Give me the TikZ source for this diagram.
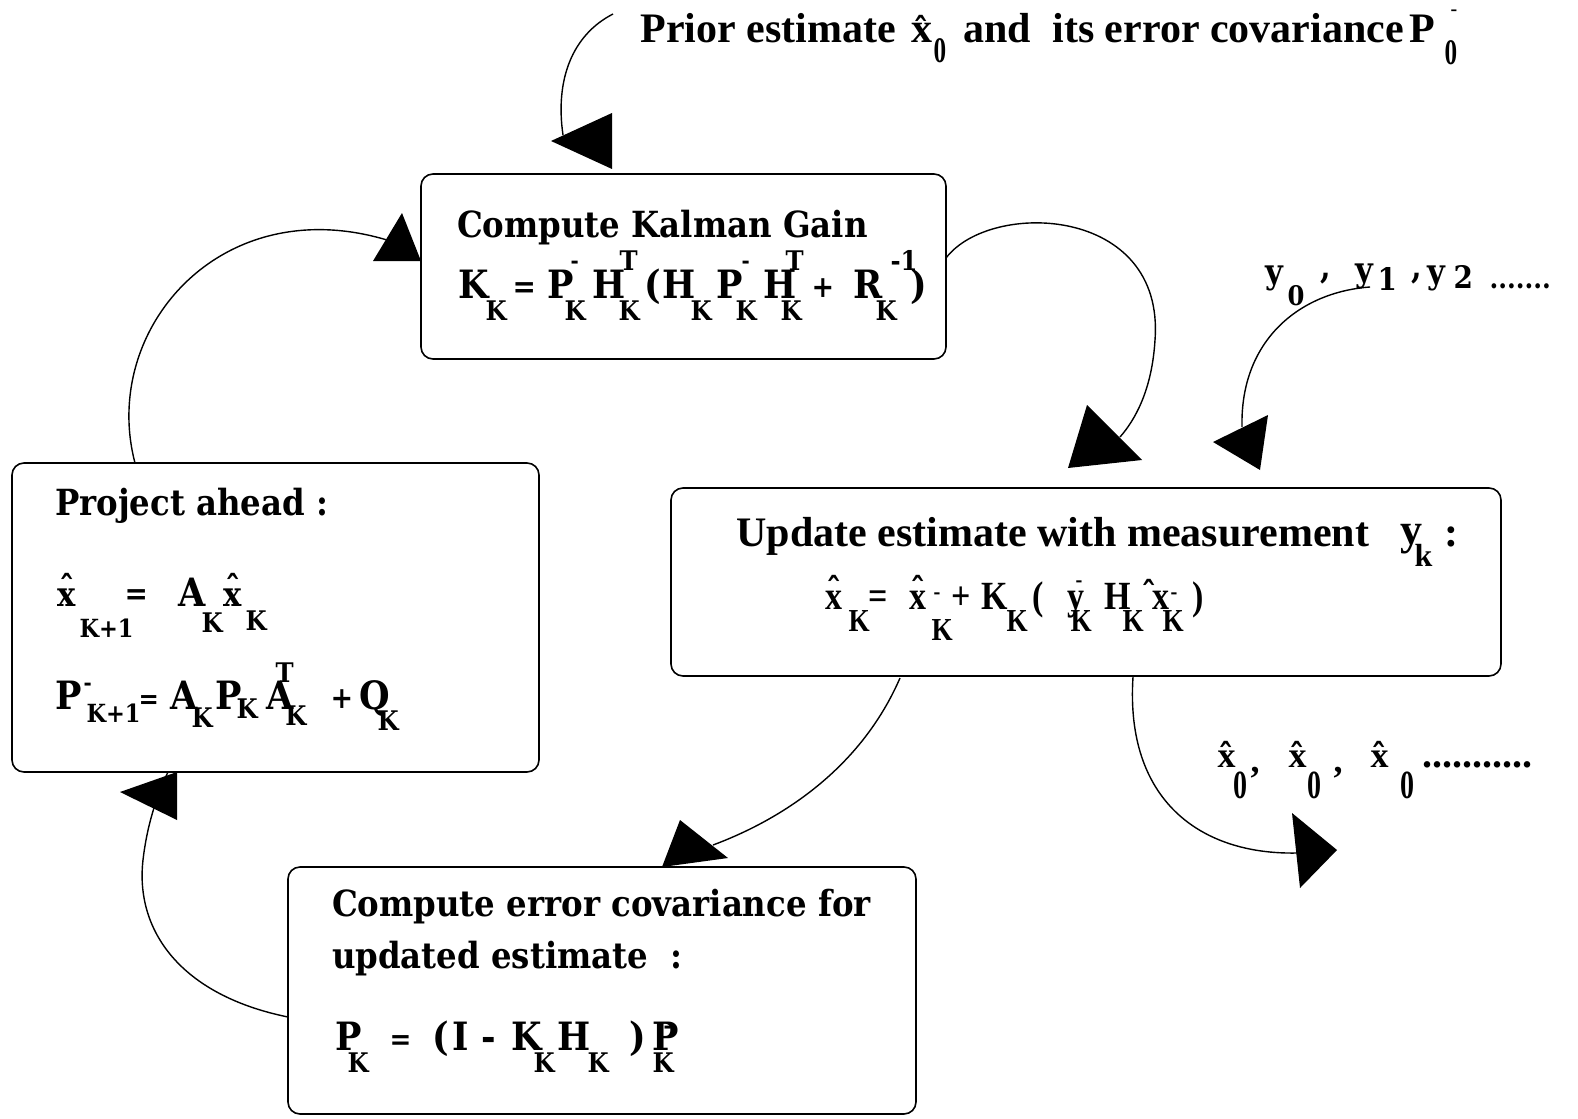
\documentclass[tikz,border=0pt]{standalone}
\usepackage{fontspec}
\newfontfamily\csf{DejaVu Serif}[FakeStretch=0.9]
\newfontfamily\tmf{Liberation Serif}
\newfontfamily\tcf{Liberation Serif}[FakeStretch=0.7]
\newfontfamily\tnf{Liberation Serif}[FakeStretch=0.85]

% font size helper
\newcommand\fs[1]{\fontsize{#1}{#1}\selectfont}
% put #3 at horizontal offset #1 and raised by #2 (pt), without taking space
\newcommand\at[3]{\rlap{\kern#1pt\raisebox{#2pt}{#3}}}
% bold circumflex used as a hat
\newcommand\caret[2]{\at{#1}{#2}{\csf\bfseries\fs{34}ˆ}}
\newcommand\dsh{{\fs{22}-}}

\newcommand\ttl{\csf\bfseries\fs{36}}
\newcommand\eqm{\csf\bfseries\fs{39}}
\newcommand\eqs{\fs{27}}
\newcommand\op{\fs{27}}

\tikzset{
  box/.style={draw, line width=1.6pt, rounded corners=12pt, inner sep=0pt},
  txt/.style={anchor=base west, inner sep=0pt, outer sep=0pt},
  link/.style={line width=1.4pt},
  head/.style={fill=black}
}

\begin{document}
\begin{tikzpicture}[x=1pt, y={(0pt,-1pt)}]
\useasboundingbox (0,0) rectangle (1578,1118);

% ---------- boxes ----------
\node[box, minimum width=525pt, minimum height=185pt] (kal)  at (683.5,266.5) {};
\node[box, minimum width=527pt, minimum height=309pt] (proj) at (275.5,617.5) {};
\node[box, minimum width=830pt, minimum height=188pt] (upd)  at (1086,582) {};
\node[box, minimum width=628pt, minimum height=247pt] (cov)  at (602,990.5) {};

% ---------- initial estimate ----------
\node[txt] (prior) at (640,43) {\tmf\bfseries\fs{42}%
  \at{0}{0}{Prior estimate}%
  \at{271}{0}{x}\caret{273}{0}%
  \at{293}{-20}{\tcf\bfseries\fs{36}0}%
  \at{323}{0}{and}%
  \at{412}{0}{its error covariance}%
  \at{769}{0}{P}%
  \at{804}{-22}{\tcf\bfseries\fs{36}0}%
  \at{810}{27}{\fs{20}-}};

% ---------- Kalman gain ----------
\node[txt] (kt) at (457,237) {\ttl Compute Kalman Gain};
\node[txt] (keq) at (458,298) {\eqm
  \at{0}{0}{K}\at{27}{-22}{\eqs K}%
  \at{54}{1}{\fs{31}=}%
  \at{89}{0}{P}\at{112}{30}{\dsh}\at{106}{-22}{\eqs K}%
  \at{134}{0}{H}\at{161}{28}{\eqs T}\at{160}{-22}{\eqs K}%
  \at{186}{0}{(}%
  \at{204}{0}{H}\at{232}{-22}{\eqs K}%
  \at{258}{0}{P}\at{283}{30}{\dsh}\at{277}{-22}{\eqs K}%
  \at{305}{0}{H}\at{327}{28}{\eqs T}\at{322}{-22}{\eqs K}%
  \at{353}{1}{\fs{30}+}%
  \at{395}{0}{R}\at{417}{-22}{\eqs K}\at{432}{28}{\eqs -1}%
  \at{452}{0}{)}};

% ---------- project ahead ----------
\node[txt] (pt) at (55,515) {\ttl Project ahead :};
\node[txt] (pe1) at (57,606) {\eqm
  \at{0}{0}{\fs{34}x}\caret{2}{6}%
  \at{22}{-31}{\fs{25}K+1}%
  \at{67}{2}{\fs{31}=}%
  \at{121}{0}{A}\at{144}{-26}{\eqs K}%
  \at{166}{0}{\fs{34}x}\caret{168}{6}%
  \at{188}{-24}{\eqs K}};
\node[txt] (pe2) at (55,709) {\eqm
  \at{0}{0}{P}\at{28}{19}{\dsh}%
  \at{31}{-13}{\fs{25}K+1}%
  \at{83}{1}{\fs{27}=}%
  \at{115}{0}{A}\at{136}{-18}{\eqs K}%
  \at{160}{0}{P}\at{181}{-9}{\eqs K}%
  \at{211}{0}{A}\at{220}{27}{\eqs T}\at{230}{-16}{\eqs K}%
  \at{275}{1}{\fs{30}+}%
  \at{304}{0}{Q}\at{322}{-21}{\eqs K}};

% ---------- measurement update ----------
\node[txt] (ut) at (736,546) {\tmf\bfseries\fs{42}%
  \at{0}{0}{Update estimate with measurement}%
  \at{664}{2}{\fs{44}y}\at{678}{-20}{\fs{32}k}\at{708}{0}{:}};
\node[txt] (ue) at (825,609) {\tnf\bfseries\fs{40}%
  \at{0}{0}{x}\caret{1}{7}\at{23}{-22}{\fs{32}K}%
  \at{43}{0}{=}%
  \at{84}{0}{x}\caret{85}{7}\at{108}{10}{\fs{24}-}\at{106}{-31}{\fs{32}K}%
  \at{126}{0}{+}%
  \at{156}{0}{K}\at{181}{-22}{\fs{32}K}%
  \at{207}{0}{(}%
  \at{242}{0}{y}\at{250}{22}{\fs{24}-}\at{245}{-22}{\fs{32}K}%
  \at{279}{0}{H}\at{297}{-22}{\fs{32}K}%
  \caret{316}{3}%
  \at{327}{0}{x}\at{345}{10}{\fs{24}-}\at{337}{-22}{\fs{32}K}%
  \at{367}{0}{)}};

% ---------- error covariance ----------
\node[txt] (ct1) at (332,916) {\ttl Compute error covariance for};
\node[txt] (ct2) at (332,968) {\ttl updated estimate\ \ :};
\node[txt] (ce) at (335,1050) {\eqm
  \at{0}{0}{P}\at{12}{-22}{\eqs K}%
  \at{54}{1}{\fs{29}=}%
  \at{97}{0}{(}\at{117}{0}{I}\at{146}{0}{-}%
  \at{176}{0}{K}\at{198}{-22}{\eqs K}%
  \at{222}{0}{H}\at{252}{-22}{\eqs K}%
  \at{294}{0}{)}%
  \at{317}{0}{P}\at{328}{17}{\dsh}\at{317}{-22}{\eqs K}};

% ---------- measurement sequence ----------
\node[txt] (ylist) at (1265,283) {\csf\bfseries\fs{34}%
  \at{0}{0}{y}\at{22}{-22}{\fs{27}0}%
  \at{55}{5}{,}%
  \at{90}{2}{y}\at{112}{-7}{\fs{31}1}%
  \at{146}{5}{,}%
  \at{162}{0}{y}\at{188}{-5}{\fs{31}2}%
  \at{224}{-5}{\fs{28}.......}};

% ---------- output sequence ----------
\node[txt] (xlist) at (1217,767) {\tmf\bfseries\fs{36}%
  \at{0}{0}{x}\caret{1}{-1}\at{16}{-31}{\tcf\bfseries\fs{40}0}%
  \at{33}{-5}{,}%
  \at{71}{0}{x}\caret{72}{-1}\at{90}{-31}{\tcf\bfseries\fs{40}0}%
  \at{116}{-5}{,}%
  \at{153}{0}{x}\caret{154}{-1}\at{183}{-31}{\tcf\bfseries\fs{40}0}%
  \at{205}{0}{\fs{40}...........}};

% ---------- connector end points ----------
\coordinate (a0) at (613,14);    \coordinate (a1) at (563,135);
\coordinate (b0) at (135,463);   \coordinate (b1) at (387,240);
\coordinate (c0) at (946,258);   \coordinate (c1) at (1155,340); \coordinate (c2) at (1120,437);
\coordinate (d0) at (1370,287);  \coordinate (d1) at (1242,427);
\coordinate (e0) at (900,678);   \coordinate (e1) at (713,845);
\coordinate (f0) at (288,1017);  \coordinate (f1) at (143,860);  \coordinate (f2) at (168,772);
\coordinate (g0) at (1133,677);  \coordinate (g1) at (1297,853);

% ---------- connectors ----------
\draw[link] (a0) .. controls (572,35) and (555,80) .. (a1);
\draw[link] (b0) .. controls (100,330) and (220,190) .. (b1);
\draw[link] (c0) .. controls (990,200) and (1165,205) .. (c1)
                 .. controls (1152,390) and (1135,420) .. (c2);
\draw[link] (d0) .. controls (1300,292) and (1240,340) .. (d1);
\draw[link] (e0) .. controls (860,770) and (780,820) .. (e1);
\draw[link] (f0) .. controls (180,995) and (135,930) .. (f1)
                 .. controls (147,825) and (157,795) .. (f2);
\draw[link] (g0) .. controls (1125,800) and (1200,855) .. (g1);

% ---------- arrow heads ----------
\fill[head] (551,141) -- (612,113) -- (612,169) -- cycle;
\fill[head] (402,213) -- (373,261) -- (421,261) -- cycle;
\fill[head] (1087,405) -- (1142,460) -- (1068,468) -- cycle;
\fill[head] (1213,442) -- (1268,415) -- (1260,470) -- cycle;
\fill[head] (680,820) -- (728,858) -- (662,867) -- cycle;
\fill[head] (120,792) -- (177,772) -- (177,820) -- cycle;
\fill[head] (1292,813) -- (1337,850) -- (1300,888) -- cycle;
\end{tikzpicture}
\end{document}
